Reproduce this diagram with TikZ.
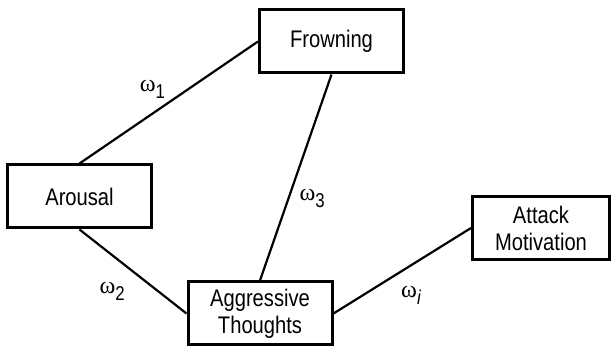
\documentclass[tikz,border=0pt]{standalone}
\usepackage{fontspec}
\setmainfont{Liberation Sans}[FakeStretch=0.84]
\newfontfamily\grkfont{Liberation Serif}
\usetikzlibrary{positioning}
\newcommand{\wt}[1]{{\grkfont ω}\raisebox{-3.5pt}{\fontsize{10}{10}\selectfont #1}}

\begin{document}
\begin{tikzpicture}[x=0.5pt, y=0.5pt, box/.style={draw, line width=1.5pt, minimum width=72pt, minimum height=31.5pt, inner sep=2pt, align=center, font=\fontsize{12}{13.5}\selectfont}, wlbl/.style={inner sep=1pt, font=\fontsize{12}{13}\selectfont}]
\useasboundingbox (0,0) rectangle (611,348);
\node[box] (fr) at (331.5,306.5) {Frowning};
\node[box] (ar) at (79.5,151.5) {Arousal};
\node[box] (ag) at (260,34.5) {Aggressive\\Thoughts};
\node[box, minimum width=68.5pt] (at) at (541,120) {Attack\\Motivation};
\draw[line width=1.1pt] (ar.north) -- node[wlbl, pos=.48, above left=1.5pt and -1.5pt] {\wt{1}} (fr.west);
\draw[line width=1.1pt] (ar.south) -- node[wlbl, pos=.47, below left=5pt and 1pt] {\wt{2}} (ag.west);
\draw[line width=1.1pt] (fr.south) -- node[wlbl, pos=.6, right=4pt] {\wt{3}} (ag.north);
\draw[line width=1.1pt] (ag.east) -- node[wlbl, pos=.47, below right=5pt and 0pt] {\wt{\itshape i}} (at.west);
\end{tikzpicture}
\end{document}
